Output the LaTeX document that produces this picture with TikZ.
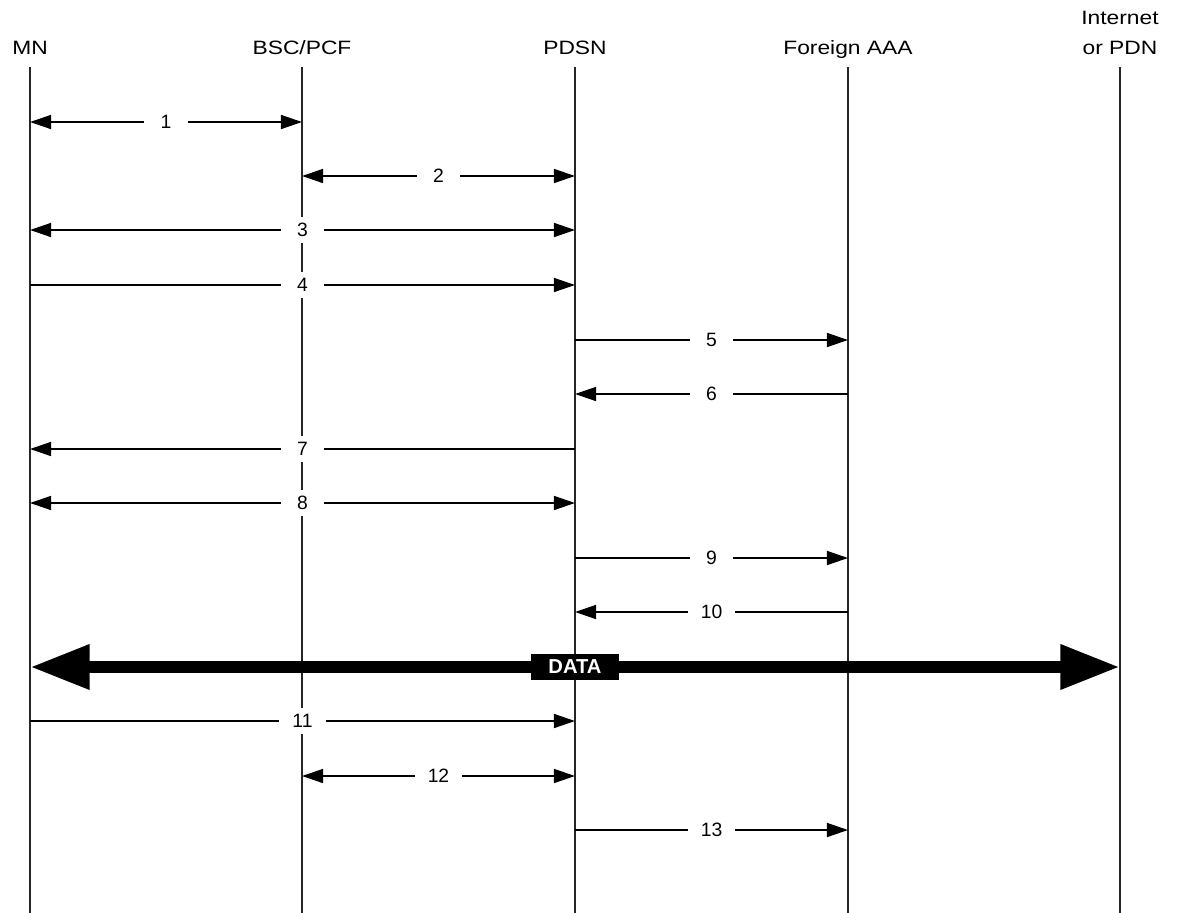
\documentclass[tikz,border=0pt]{standalone}
\usepackage{fontspec}
\setmainfont{Liberation Sans}
\newfontfamily\headfont{Liberation Sans}[FakeStretch=1.18]
\usetikzlibrary{arrows.meta}

\begin{document}
\begin{tikzpicture}[x=0.02cm, y=-0.02cm,
		>={Triangle[length=12pt,width=8pt]},
		head/.style={font=\headfont\fontsize{11}{17}\selectfont, align=center, anchor=base},
		life/.style={line width=0.6pt, black!85},
		msg/.style={line width=0.8pt},
		bi/.style={<->}, uni/.style={->},
		lbl/.style={fill=white, inner xsep=7.5pt, inner ysep=0pt, minimum width=25pt, minimum height=15pt, font=\fontsize{11}{13}\selectfont},
		datal/.style={line width=7pt, {Triangle[length=34pt,width=24pt]}-{Triangle[length=34pt,width=24pt]}},
		dbox/.style={fill=black, text=white, inner sep=0pt, minimum width=50pt, minimum height=14.5pt, font=\fontsize{11.5}{14}\selectfont\bfseries}]
	\useasboundingbox (0,0) rectangle (1181,913);
	% entities
	\node[head] (mnH) at (30,54) {MN};
	\node[head] (bscH) at (302,54) {BSC/PCF};
	\node[head] (pdsnH) at (575,54) {PDSN};
	\node[head] (aaaH) at (848,54) {Foreign AAA};
	\node[head] (netH) at (1120,54) {Internet\\or PDN};
	% lifelines
	\foreach \n/\x in {mn/30, bsc/302, pdsn/575, aaa/848, net/1120}
	{
		\coordinate (\n) at (\x,67);
		\draw[life] (\n) -- (\n |- 0,913);
	}
	% messages
	\foreach \y/\a/\b/\t/\s in {122/mn/bsc/1/bi, 176/bsc/pdsn/2/bi, 230/mn/pdsn/3/bi, 285/mn/pdsn/4/uni,
		340/pdsn/aaa/5/uni, 394/aaa/pdsn/6/uni, 449/pdsn/mn/7/uni, 503/mn/pdsn/8/bi,
		558/pdsn/aaa/9/uni, 612/aaa/pdsn/10/uni, 721/mn/pdsn/11/uni, 776/bsc/pdsn/12/bi,
		830/pdsn/aaa/13/uni}
	{
		\draw[msg,\s] (\a |- 0,\y) -- node[lbl] {\t} (\b |- 0,\y);
	}
	% data
	\draw[datal] (mn |- 0,667) -- (net |- 0,667);
	\node[dbox] (data) at (pdsn |- 0,667) {DATA};
\end{tikzpicture}
\end{document}
